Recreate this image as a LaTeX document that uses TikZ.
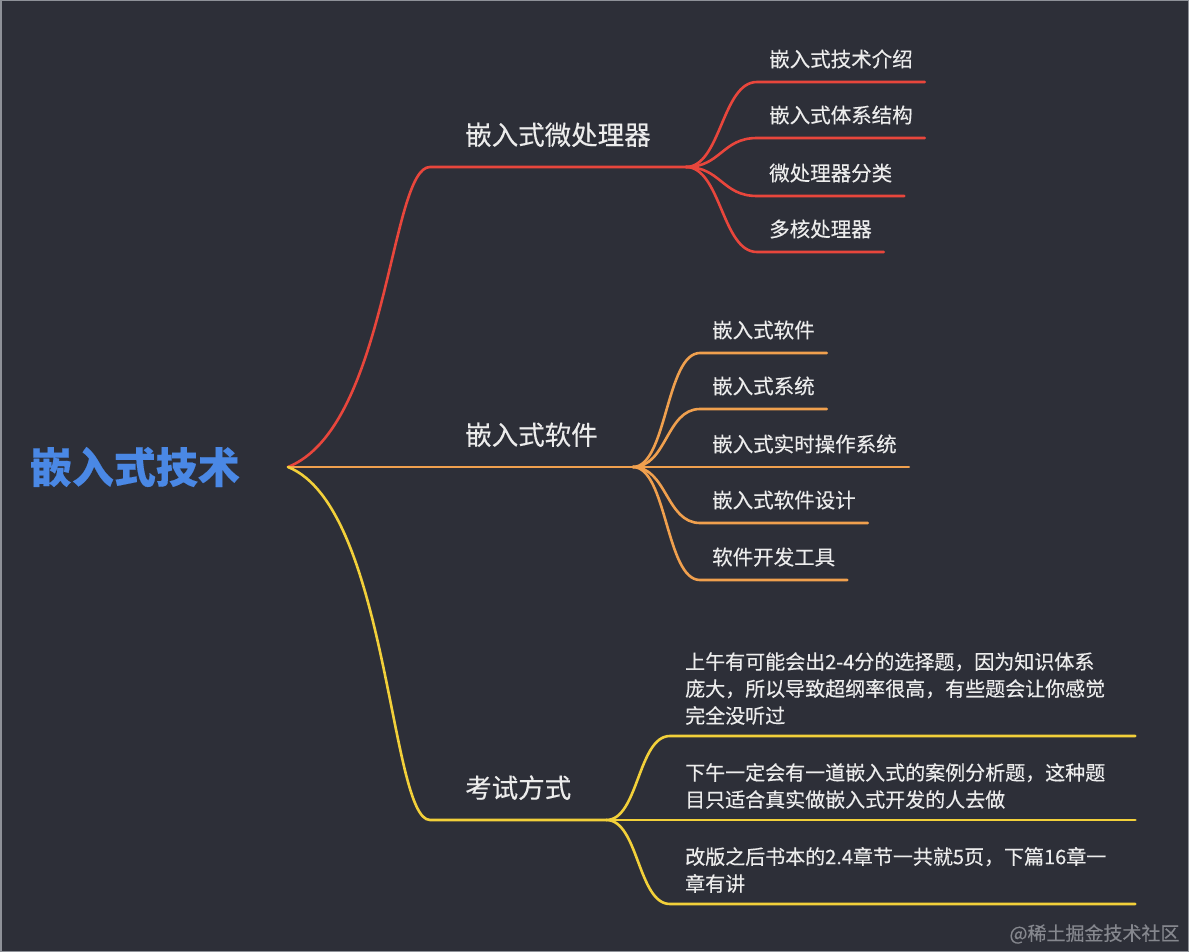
\documentclass[tikz,border=0pt]{standalone}
\usepackage{fontspec}
\setmainfont{Noto Sans CJK SC}[FakeBold=0.3]
\definecolor{mmbg}{HTML}{2D2F38}
\definecolor{mmframe}{HTML}{8E9198}
\definecolor{mmblue}{HTML}{4A88E5}
\definecolor{mmred}{HTML}{E8463C}
\definecolor{mmorange}{HTML}{F0A04E}
\definecolor{mmyellow}{HTML}{F2D03A}
\definecolor{mmtext}{HTML}{ECECEC}
\definecolor{mmmark}{HTML}{85878E}
\tikzset{
  rootnode/.style={anchor=east, inner xsep=48pt, font=\fontsize{42}{42}\selectfont\bfseries, text=mmblue},
  topic/.style={anchor=south west, inner xsep=35pt, inner ysep=16pt, text depth=6pt, font=\fontsize{26.5}{30}\selectfont, text=mmtext},
  leaf/.style={anchor=south west, inner xsep=12pt, inner ysep=9pt, text depth=6pt, font=\fontsize{20.5}{24}\selectfont, text=mmtext},
  note/.style={anchor=south west, inner xsep=15pt, inner ysep=11pt, text width=435pt, align=left, font=\fontsize{20}{27}\selectfont, text=mmtext},
  br/.style={line width=2.6pt, line cap=round},
}

\begin{document}
\begin{tikzpicture}[x=1pt,y=-1pt]
  \fill[mmbg] (0,0) rectangle (1189,952);
  \useasboundingbox (0,0) rectangle (1189,952);
  \draw[mmframe, line width=1.5pt] (0.75,0.75) rectangle (1188.25,951.25);

  \node[rootnode] (root) at (288,467) {嵌入式技术};

  % main topics
  \foreach \n/\y/\d/\col/\t in {mp/167/-40/mmred/嵌入式微处理器, sw/467/0/mmorange/嵌入式软件, ex/820/40/mmyellow/考试方式}
  {
    \node[topic] (\n) at (430,\y) {\t};
    \draw[br, \col] (root.east) .. controls +(100,\d) and +(-40,0) .. (\n.south west) -- (\n.south east);
  }

  % sub topics
  \foreach \i/\y/\t in {1/82/嵌入式技术介绍, 2/138/嵌入式体系结构, 3/196/微处理器分类, 4/252/多核处理器}
  {
    \node[leaf] (mp\i) at (757,\y) {\t};
    \draw[br, mmred] (mp.south east) .. controls +(35,0) and +(-35,0) .. (mp\i.south west) -- (mp\i.south east);
  }
  \foreach \i/\y/\t in {1/353/嵌入式软件, 2/409/嵌入式系统, 3/467/嵌入式实时操作系统, 4/523/嵌入式软件设计, 5/580/软件开发工具}
  {
    \node[leaf] (sw\i) at (700,\y) {\t};
    \draw[br, mmorange] (sw.south east) .. controls +(34,0) and +(-34,0) .. (sw\i.south west) -- (sw\i.south east);
  }
  \foreach \i/\y/\t in {
    1/736/{上午有可能会出2-4分的选择题，因为知识体系\\庞大，所以导致超纲率很高，有些题会让你感觉\\完全没听过},
    2/820/{下午一定会有一道嵌入式的案例分析题，这种题\\目只适合真实做嵌入式开发的人去做},
    3/904/{改版之后书本的2.4章节一共就5页，下篇16章一\\章有讲}}
  {
    \node[note] (ex\i) at (670,\y) {\t};
    \draw[br, mmyellow] (ex.south east) .. controls +(32,0) and +(-32,0) .. (ex\i.south west) -- (ex\i.south east);
  }

  \node[anchor=east, font=\fontsize{19}{19}\selectfont, text=mmmark] (mark) at (1183,934) {@稀土掘金技术社区};
\end{tikzpicture}
\end{document}
